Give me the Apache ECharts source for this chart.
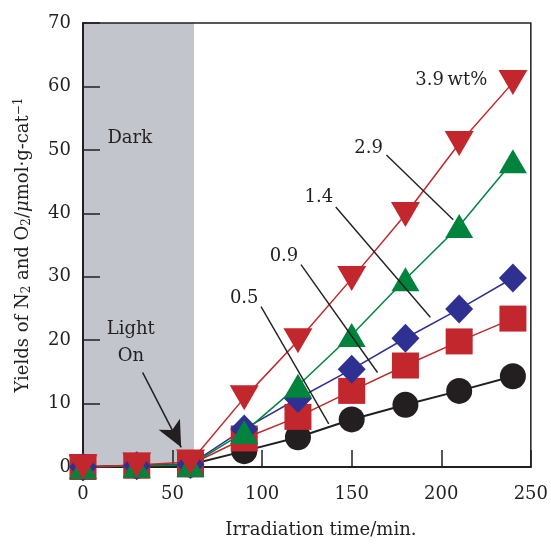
<!DOCTYPE html>
<html><head><meta charset="utf-8">
<script src="https://cdn.jsdelivr.net/npm/echarts@6/dist/echarts.min.js"></script>
<style>html,body{margin:0;padding:0;background:#fff}#c{width:551px;height:544px}</style>
</head><body><div id="c"></div>
<script>
// Irradiation time (min)
var times = [0, 30, 60, 90, 120, 150, 180, 210, 240];
// Yields (umol g-cat^-1) per loading (wt%)
var y05 = [0, 0.2, 0.4, 2.5, 4.7, 7.5, 9.8, 12.0, 14.3];
var y09 = [0, 0.2, 0.4, 4.5, 7.9, 12.0, 16.0, 19.8, 23.4];
var y14 = [0, 0.2, 0.4, 6.0, 10.8, 15.4, 20.3, 24.9, 29.8];
var y29 = [0, 0.2, 0.3, 5.5, 12.8, 20.8, 29.6, 38.0, 48.2];
var y39 = [0, 0.3, 0.8, 10.9, 19.9, 29.7, 39.8, 51.0, 60.6];
var xTicks = [0, 50, 100, 150, 200, 250];
var yTicks = [0, 10, 20, 30, 40, 50, 60, 70];
var darkEnd = 62;

function pairs(ys){ return times.map(function(t,i){return [t, ys[i]];}); }

var font = 'DejaVu Serif';
var chart = echarts.init(document.getElementById('c'));
var common = function(name, data, color, symbol, size, rotate, lw){
  return {name:name, type:'line', data:pairs(data), symbol:symbol, symbolSize:size, symbolRotate:rotate||0,
    lineStyle:{color:color, width:lw||1.5}, itemStyle:{color:color, opacity:1}, z:3};
};
function textPt(x, y, txt){ return {value:[x,y], name:txt}; }

chart.setOption({
  animation:false,
  grid:{left:83, right:18, top:23, bottom:76, show:true, borderColor:'#231f20', borderWidth:1.5, containLabel:false},
  xAxis:{type:'value', min:0, max:250, interval:50,
    name:'Irradiation time/min.', nameLocation:'middle', nameGap:54,
    nameTextStyle:{fontFamily:font, fontSize:18, color:'#231f20', padding:[0,0,0,28]},
    axisLine:{show:true, onZero:false, lineStyle:{color:'#231f20', width:2}},
    axisTick:{show:true, inside:true, length:17, lineStyle:{color:'#231f20', width:1.5}},
    axisLabel:{margin:18, fontFamily:font, fontSize:18, color:'#231f20',
      formatter:function(v){return xTicks.indexOf(v)>=0? String(v):'';}},
    splitLine:{show:false}},
  yAxis:{type:'value', min:0, max:70, interval:10,
    name:'Yields of N{sub|2} and O{sub|2}/{it|μ}mol·g-cat{sup|−1}', nameLocation:'middle', nameGap:50,
    nameTextStyle:{fontFamily:font, fontSize:18, color:'#231f20',
      rich:{sub:{fontSize:12, fontFamily:font, color:'#231f20', verticalAlign:'bottom', padding:[6,0,0,0]},
            sup:{fontSize:12, fontFamily:font, color:'#231f20', verticalAlign:'top', padding:[0,0,8,0]},
            it:{fontSize:18, fontFamily:font, fontStyle:'italic', color:'#231f20'}}},
    axisLine:{show:true, lineStyle:{color:'#231f20', width:2}},
    axisTick:{show:true, inside:true, length:17, lineStyle:{color:'#231f20', width:1.5}},
    axisLabel:{margin:12, fontFamily:font, fontSize:18, color:'#231f20',
      formatter:function(v){return yTicks.indexOf(v)>=0? String(v):'';}},
    splitLine:{show:false}},
  series:[
    {type:'line', data:[], z:-1,
      markArea:{silent:true, z:-1, itemStyle:{color:'#c2c6cc', opacity:1},
        data:[[{xAxis:0, yAxis:0},{xAxis:darkEnd, yAxis:70}]]}},
    common('0.5', y05, '#231f20', 'circle', 26, 0, 2),
    common('0.9', y09, '#c1272d', 'rect', [27,26]),
    common('1.4', y14, '#2e3192', 'diamond', [28,29]),
    common('2.9', y29, '#00843d', 'triangle', [28,24]),
    common('3.9', y39, '#c1272d', 'triangle', [29,25], 180),
    {type:'line', data:[], z:6,
      markLine:{silent:true, symbol:['none','none'], label:{show:false},
        lineStyle:{color:'#231f20', width:1.4, type:'solid'},
        data:[
          [{coord:[169.4,49.2]},{coord:[206.7,39.0]}],
          [{coord:[141.1,41.0]},{coord:[193.9,23.6]}],
          [{coord:[121.7,31.9]},{coord:[164.4,14.9]}],
          [{coord:[99.4,25.3]},{coord:[137.2,6.8]}]
        ]}},
    {type:'line', data:[], z:6,
      markLine:{silent:true, symbol:['none','arrow'], symbolSize:[18,26], label:{show:false},
        lineStyle:{color:'#231f20', width:1.6, type:'solid'},
        data:[[{coord:[33.3,14.9]},{coord:[54.8,3.1]}]]}},
    {type:'scatter', symbolSize:1, itemStyle:{color:'rgba(0,0,0,0)', opacity:1}, z:7,
      label:{show:true, position:'inside', formatter:'{b}', fontFamily:font, fontSize:18, color:'#231f20', opacity:1, lineHeight:27},
      data:[
        textPt(205.6,60.9,'3.9\u2009wt%'),
        textPt(159.4,50.3,'2.9'),
        textPt(131.7,42.5,'1.4'),
        textPt(112.2,33.2,'0.9'),
        textPt(90.0,26.6,'0.5'),
        textPt(26.7,19.6,'Light\nOn'),
        textPt(26.1,51.8,'Dark')
      ]}
  ]
});
</script></body></html>
